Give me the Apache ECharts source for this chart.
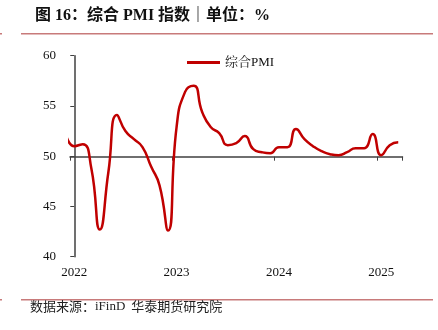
<!DOCTYPE html>
<html><head><meta charset="utf-8">
<script src="https://cdn.jsdelivr.net/npm/echarts@6/dist/echarts.min.js"></script>
<style>html,body{margin:0;padding:0;background:#fff}#c{width:438px;height:330px}</style>
</head><body><div id="c"></div>
<script>
// Monthly China composite PMI, Dec 2021 .. Mar 2025 (Dec 2021 lies just left of the axis and is clipped)
const months = ['2021-12',
 '2022-01','2022-02','2022-03','2022-04','2022-05','2022-06','2022-07','2022-08','2022-09','2022-10','2022-11','2022-12',
 '2023-01','2023-02','2023-03','2023-04','2023-05','2023-06','2023-07','2023-08','2023-09','2023-10','2023-11','2023-12',
 '2024-01','2024-02','2024-03','2024-04','2024-05','2024-06','2024-07','2024-08','2024-09','2024-10','2024-11','2024-12',
 '2025-01','2025-02','2025-03'];
const pmi = [52.2,
 51.0,51.2,48.8,42.7,48.4,54.1,52.5,51.7,50.9,49.0,47.1,42.6,
 52.9,56.4,57.0,54.4,52.9,52.3,51.1,51.3,52.0,50.7,50.4,50.3,
 50.9,50.9,52.7,51.7,51.0,50.5,50.2,50.1,50.4,50.8,50.8,52.2,
 50.1,51.1,51.4];
const seriesName = '综合PMI';
const yTicks = [40, 45, 50, 55, 60];

const axisCats = months.slice(1); // categories shown on axis: Jan 2022 .. Mar 2025
const lineData = months.map((m, i) => [i - 1, pmi[i]]);

const chart = echarts.init(document.getElementById('c'));
const serif = '"Liberation Serif","Noto Serif CJK SC","Noto Sans CJK SC",serif';
const axisColor = '#404040';
chart.setOption({
  animation: false,
  backgroundColor: '#fff',
  grid: {left: 70, right: 35.5, top: 55.7, bottom: 73.3, containLabel: false},
  legend: {
    data: [seriesName], top: 51, left: 182,
    itemWidth: 33, itemHeight: 3, itemGap: 4,
    icon: 'rect',
    textStyle: {fontFamily: serif, fontSize: 13, color: '#111'}
  },
  xAxis: [
    { type: 'category', data: axisCats, boundaryGap: true, position: 'bottom',
      axisLine: {show: false}, axisTick: {show: false}, splitLine: {show: false},
      axisLabel: {interval: 11, margin: 9, fontFamily: serif, fontSize: 13, color: '#111',
        formatter: v => v.endsWith('-01') ? v.slice(0,4) : ''}
    },
    { type: 'category', data: axisCats, boundaryGap: true, position: 'bottom', offset: -100,
      axisLine: {show: true, lineStyle: {color: axisColor, width: 1.5}},
      axisTick: {show: true, interval: 11, length: 4, inside: false, lineStyle: {color: axisColor, width: 1}},
      axisLabel: {show: false}, splitLine: {show: false}
    },
    { type: 'value', min: -0.5, max: axisCats.length - 0.5, show: false }
  ],
  yAxis: {
    type: 'value', min: yTicks[0], max: yTicks[yTicks.length-1], interval: 5,
    axisLine: {show: true, lineStyle: {color: axisColor, width: 1.5}},
    axisTick: {show: true, length: 4, lineStyle: {color: axisColor}},
    splitLine: {show: false},
    axisLabel: {margin: 14, fontFamily: serif, fontSize: 13, color: '#111'}
  },
  series: [{
    name: seriesName, type: 'line', xAxisIndex: 2, data: lineData,
    smooth: 0.55, symbol: 'none', clip: true,
    lineStyle: {color: '#c00000', width: 2.5}, itemStyle: {color: '#c00000'}
  }],
  graphic: [
    {type: 'text', left: 35, top: 8, style: {text: '图 16：综合 PMI 指数｜单位：%', fontFamily: '"Liberation Serif","Noto Sans CJK SC",serif', fontSize: 16, fontWeight: 'bold', fill: '#111'}},
    {type: 'rect', shape: {x: 21, y: 33, width: 412, height: 1.5}, style: {fill: '#c87a7a'}},
    {type: 'rect', shape: {x: 0, y: 33, width: 2, height: 1.5}, style: {fill: '#c87a7a'}},
    {type: 'rect', shape: {x: 21, y: 299, width: 412, height: 1.5}, style: {fill: '#c87a7a'}},
    {type: 'rect', shape: {x: 0, y: 299, width: 2, height: 1.5}, style: {fill: '#c87a7a'}},
    {type: 'text', left: 30, top: 300, style: {
      text: '{c|数据来源：}{e|iFinD}{c|  华泰期货研究院}',
      rich: {
        c: {fontFamily: '"Noto Sans CJK SC",sans-serif', fontSize: 13, fill: '#222'},
        e: {fontFamily: '"Liberation Serif",serif', fontSize: 13, fill: '#222'}
      }}}
  ]
});
</script></body></html>
